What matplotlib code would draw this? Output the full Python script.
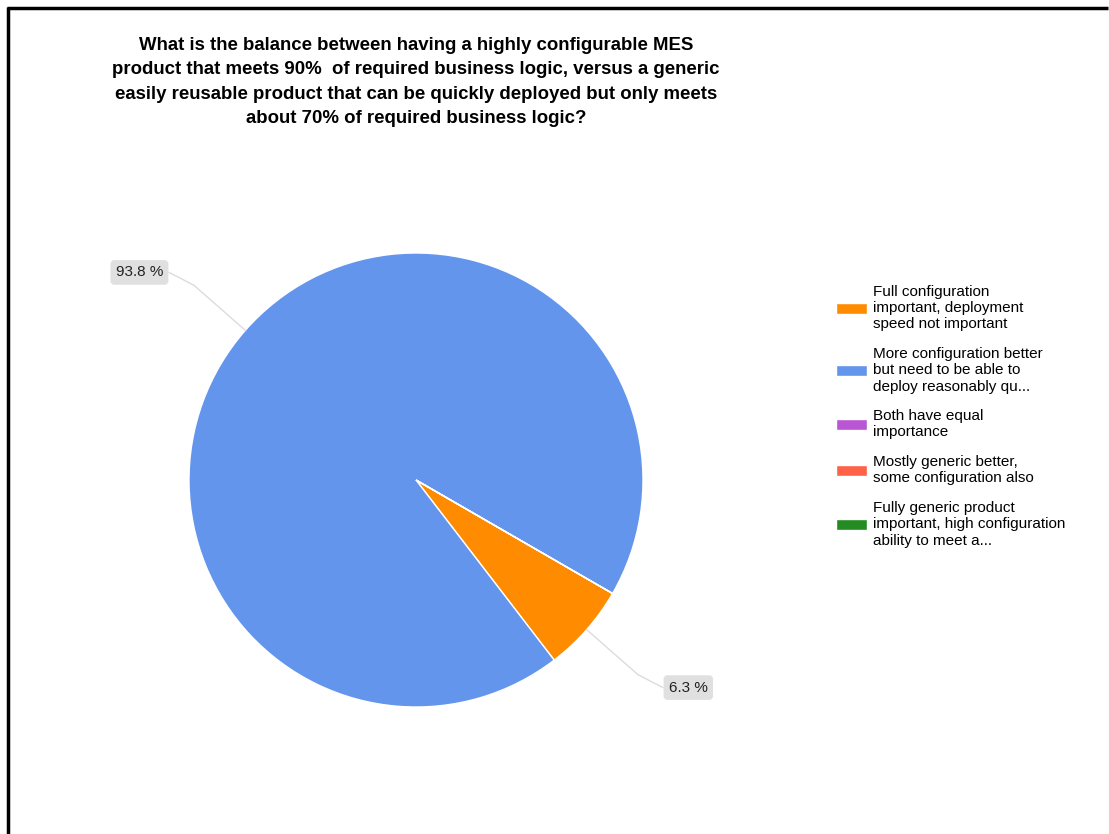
import numpy as np
import matplotlib.pyplot as plt
from matplotlib.lines import Line2D

plt.rcParams['font.family'] = ['Liberation Sans', 'DejaVu Sans']

### data
title = ("What is the balance between having a highly configurable MES\n"
         "product that meets 90%  of required business logic, versus a generic\n"
         "easily reusable product that can be quickly deployed but only meets\n"
         "about 70% of required business logic?")
labels = ["Full configuration\nimportant, deployment\nspeed not important",
          "More configuration better\nbut need to be able to\ndeploy reasonably qu...",
          "Both have equal\nimportance",
          "Mostly generic better,\nsome configuration also",
          "Fully generic product\nimportant, high configuration\nability to meet a..."]
counts = [1, 15, 0, 0, 0]
colors = ['#ff8c00', '#6495ed', '#ba55d3', '#ff6347', '#228b22']

W, H = 1109, 834
fig = plt.figure(figsize=(W/100, H/100), dpi=100)
# axes in pixel units so the layout is easy to match
ax = fig.add_axes([0, 0, 1, 1])

cx, cy, r = 416, H - 480, 227
start = -30

vals = np.array(counts, dtype=float)
wedges, _ = ax.pie(vals, colors=colors, startangle=start, counterclock=False,
                   center=(cx, cy), radius=r, frame=True,
                   wedgeprops=dict(edgecolor='white', linewidth=1))
ax.set_xlim(0, W)
ax.set_ylim(0, H)
ax.set_aspect('equal')
ax.axis('off')

# percentage labels with leader lines (round half up like the sheet does)
pct = vals / vals.sum() * 100
for w, p in zip(wedges, pct):
    if p <= 0:
        continue
    mid = np.deg2rad((w.theta1 + w.theta2) / 2)
    x0, y0 = cx + r*np.cos(mid), cy + r*np.sin(mid)
    x1, y1 = cx + 1.3*r*np.cos(mid), cy + 1.3*r*np.sin(mid)
    sx = np.sign(np.cos(mid))
    sy = np.sign(np.sin(mid))
    x2, y2 = x1 + sx*25, y1 + sy*13
    ax.plot([x0, x1, x2], [y0, y1, y2], color='#dcdcdc', lw=1, zorder=1)
    txt = '%.1f %%' % (np.floor(p*10 + 0.5) / 10)
    ax.text(x2 + sx*6, y2, txt, fontsize=11, color='#222222',
            ha='left' if sx > 0 else 'right', va='center',
            bbox=dict(boxstyle='round,pad=0.3,rounding_size=0.2',
                      fc='#e0e0e0', ec='#e0e0e0'))

fig.text(416/W, 1 - 37/H, title, ha='center', va='top', fontsize=13.4,
         fontweight='bold', linespacing=1.56)

fs = 11
fig.legend(wedges, labels, loc='upper left',
           bbox_to_anchor=(836/W, 1 - 285/H), frameon=False,
           fontsize=fs, handlelength=2.0, handleheight=0.7,
           handletextpad=0.45, labelspacing=1.03, borderpad=0,
           borderaxespad=0)

# frame lines at top and left
fig.add_artist(Line2D([7/W, 1108/W], [1 - 8/H, 1 - 8/H], color='black',
                      lw=2.5, solid_capstyle='butt'))
fig.add_artist(Line2D([8/W, 8/W], [1 - 7/H, 0], color='black', lw=2.5,
                      solid_capstyle='butt'))

fig.savefig('out.png', dpi=100)
